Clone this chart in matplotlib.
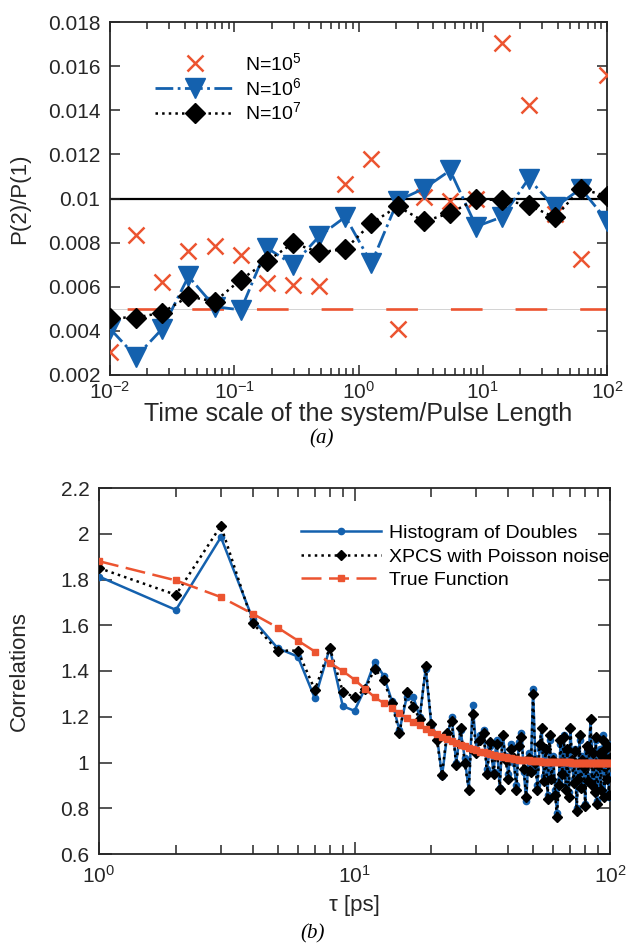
import matplotlib
matplotlib.use('Agg')
import matplotlib.pyplot as plt
import numpy as np
from matplotlib.ticker import FuncFormatter, LogLocator, NullFormatter

plt.rcParams['font.family'] = ['Liberation Sans', 'DejaVu Sans']
plt.rcParams['mathtext.fontset'] = 'custom'
plt.rcParams['mathtext.rm'] = 'Liberation Sans'
plt.rcParams['mathtext.it'] = 'Liberation Sans:italic'

# ---- panel (a): P(2)/P(1) vs time scale ----
t_ratio = [0.01, 0.0162, 0.0264, 0.0428, 0.0695, 0.113, 0.183, 0.298, 0.483, 0.785,
           1.27, 2.07, 3.36, 5.46, 8.86, 14.4, 23.4, 38.0, 61.6, 100.0]
p_1e5 = [0.00306, 0.00836, 0.0062, 0.0076, 0.00783, 0.00745, 0.00618, 0.0061, 0.00605, 0.01065,
         0.01177, 0.00408, 0.01008, 0.0099, 0.0100, 0.01706, 0.01423, 0.0093, 0.00728, 0.01558]
p_1e6 = [0.0041, 0.00283, 0.0041, 0.00647, 0.0051, 0.00495, 0.00776, 0.0070, 0.00829, 0.00917,
         0.00706, 0.0099, 0.01045, 0.01127, 0.00873, 0.00917, 0.0109, 0.0096, 0.01045, 0.0090]
p_1e7 = [0.0046, 0.0046, 0.00483, 0.00556, 0.00533, 0.00632, 0.00715, 0.00798, 0.00756, 0.00771,
         0.00888, 0.00964, 0.00896, 0.00934, 0.00996, 0.00993, 0.0097, 0.00914, 0.01045, 0.0101]
ref_high = 0.01
ref_low = 0.005

# ---- panel (b): correlations vs tau ----
tau = np.arange(1, 101)
hist_doubles = [1.813, 1.667, 1.985, 1.626, 1.50, 1.463, 1.28, 1.50, 1.246, 1.226,
                1.324, 1.44, 1.38, 1.27, 1.14, 1.285, 1.285, 1.20, 1.41, 1.16,
                1.12, 0.94, 1.11, 1.20, 1.00, 1.14, 1.02, 0.88, 1.25, 1.06,
                1.12, 1.14, 0.97, 1.07, 0.96, 1.10, 0.89, 1.12, 1.03, 0.95,
                1.08, 1.00, 0.90, 1.09, 1.13, 0.96, 0.83, 1.04, 0.97, 1.32,
                1.02, 0.90, 1.06, 1.15, 0.94, 1.05, 0.86, 1.10, 0.95, 1.03,
                0.88, 0.78, 0.92, 1.08, 0.97, 1.12, 0.90, 1.04, 0.87, 1.15,
                0.99, 0.93, 1.06, 0.80, 0.95, 1.10, 0.91, 1.03, 0.96, 0.82,
                1.05, 0.94, 1.08, 1.19, 0.92, 1.02, 0.89, 1.10, 0.83, 0.97,
                1.06, 0.90, 1.01, 1.12, 0.87, 1.04, 0.95, 1.08, 0.85, 1.00]
xpcs_poisson = [1.85, 1.733, 2.035, 1.609, 1.489, 1.489, 1.317, 1.502, 1.31, 1.285,
                1.32, 1.41, 1.36, 1.26, 1.127, 1.31, 1.243, 1.19, 1.42, 1.17,
                1.10, 0.945, 1.13, 1.18, 0.99, 1.15, 1.00, 0.879, 1.21, 1.04,
                1.10, 1.13, 0.95, 1.09, 0.95, 1.08, 0.886, 1.12, 1.01, 0.93,
                1.06, 1.02, 0.88, 1.07, 1.11, 0.97, 0.85, 1.02, 0.96, 1.30,
                1.00, 0.88, 1.08, 1.15, 0.92, 1.06, 0.84, 1.12, 0.93, 1.01,
                0.86, 0.76, 0.90, 1.10, 0.95, 1.11, 0.88, 1.06, 0.85, 1.15,
                1.01, 0.91, 1.05, 0.79, 0.93, 1.12, 0.89, 1.01, 0.98, 0.81,
                1.07, 0.92, 1.06, 1.19, 0.90, 1.04, 0.87, 1.11, 0.82, 0.99,
                1.04, 0.88, 1.03, 1.10, 0.85, 1.06, 0.93, 1.07, 0.86, 1.02]
true_function = [1.88, 1.796, 1.723, 1.65, 1.59, 1.533, 1.485, 1.435, 1.40, 1.362,
                 1.322, 1.285, 1.26, 1.237, 1.215, 1.195, 1.178, 1.162, 1.148, 1.135,
                 1.123, 1.112, 1.102, 1.093, 1.085, 1.077, 1.07, 1.064, 1.058, 1.053,
                 1.048, 1.044, 1.04, 1.036, 1.033, 1.03, 1.027, 1.025, 1.022, 1.02,
                 1.018, 1.016, 1.015, 1.013, 1.012, 1.011, 1.01, 1.009, 1.008, 1.007,
                 1.006, 1.005, 1.005, 1.004, 1.004, 1.003, 1.003, 1.003, 1.002, 1.002,
                 1.002, 1.002, 1.001, 1.001, 1.001, 1.001, 1.001, 1.001, 1.001, 1.001,
                 1.0, 1.0, 1.0, 1.0, 1.0, 1.0, 1.0, 1.0, 1.0, 1.0,
                 1.0, 1.0, 1.0, 1.0, 1.0, 1.0, 1.0, 1.0, 1.0, 1.0,
                 1.0, 1.0, 1.0, 1.0, 1.0, 1.0, 1.0, 1.0, 1.0, 1.0]

blue = '#1461AE'
red = '#EC5430'
axcol = '#262626'
fs = 15


def style_axes(ax, major_len, minor_len, xpad):
    for s in ax.spines.values():
        s.set_linewidth(1.3)
        s.set_color(axcol)
    ax.tick_params(which='both', direction='in', top=True, right=True,
                   colors=axcol, labelsize=fs, width=1.1)
    ax.tick_params(which='major', length=major_len)
    ax.tick_params(which='minor', length=minor_len)
    ax.tick_params(axis='y', which='major', pad=7)
    ax.tick_params(axis='x', which='major', pad=xpad)
    ax.xaxis.set_minor_locator(LogLocator(base=10, subs=np.arange(2, 10), numticks=20))
    ax.xaxis.set_minor_formatter(NullFormatter())
    ax.yaxis.set_major_formatter(FuncFormatter(lambda v, p: '%g' % round(v, 4)))


fig = plt.figure(figsize=(6.28, 9.43), dpi=100)

# top panel
ax1 = fig.add_axes([110 / 628, 1 - 375 / 943, 497 / 628, 353 / 943])
ax1.axhline(ref_low, color='#cccccc', lw=0.6, zorder=1)
ax1.axhline(ref_low, color=red, lw=1.9, linestyle=(18, (12, 12.5)), zorder=1)
ax1.axhline(ref_high, color='black', lw=1.6, zorder=1)
ax1.plot(t_ratio, p_1e5, linestyle='none', marker='x', ms=11, mew=1.8, color=red,
         label='N=10$^{5}$', zorder=3)
ax1.plot(t_ratio, p_1e6, linestyle='-.', lw=2.0, marker='v', ms=14, color=blue,
         label='N=10$^{6}$', zorder=4)
ax1.plot(t_ratio, p_1e7, linestyle=':', lw=1.8, marker='D', ms=10.5, color='black',
         label='N=10$^{7}$', zorder=5)
ax1.set_xscale('log')
ax1.set_xlim(1e-2, 1e2)
ax1.set_ylim(0.002, 0.018)
ax1.set_yticks(np.arange(0.002, 0.0181, 0.002))
style_axes(ax1, 7.5, 5, 4)
ax1.set_xlabel('Time scale of the system/Pulse Length', fontsize=18, color=axcol,
               labelpad=0)
ax1.set_ylabel('P(2)/P(1)', fontsize=16, color=axcol)
ax1.yaxis.set_label_coords(-0.16, 0.5)
ax1.legend(loc='upper left', bbox_to_anchor=(0.09, 0.915), frameon=False,
           fontsize=14, handlelength=4.1, handletextpad=0.55, labelspacing=0.15,
           borderpad=0, borderaxespad=0)
fig.text(322 / 628, 1 - 439 / 943, '(a)', fontsize=15, family='Liberation Serif',
         style='italic', ha='center', va='center')

# bottom panel
ax2 = fig.add_axes([99 / 628, 1 - 854 / 943, 511 / 628, 366 / 943])
ax2.plot(tau, hist_doubles, '-', lw=1.8, marker='o', ms=4.5, color=blue,
         label='Histogram of Doubles', zorder=3)
ax2.plot(tau, xpcs_poisson, ':', lw=1.8, marker='D', ms=5.5, color='black',
         label='XPCS with Poisson noise', zorder=4)
ax2.plot(tau, true_function, linestyle=(0, (8, 3)), lw=1.8, marker='s', ms=5,
         color=red, label='True Function', zorder=5)
ax2.set_xscale('log')
ax2.set_xlim(1, 100)
ax2.set_ylim(0.6, 2.2)
ax2.set_yticks(np.arange(0.6, 2.21, 0.2))
style_axes(ax2, 9, 6.5, 8)
ax2.set_xlabel('τ [ps]', fontsize=16, color=axcol, labelpad=6)
ax2.set_ylabel('Correlations', fontsize=16, color=axcol)
ax2.yaxis.set_label_coords(-0.135, 0.5)
ax2.legend(loc='upper left', bbox_to_anchor=(0.395, 0.9), frameon=False,
           fontsize=14, handlelength=4.1, handletextpad=0.45, labelspacing=0.3,
           borderpad=0, borderaxespad=0)
fig.text(313 / 628, 1 - 934 / 943, '(b)', fontsize=15, family='Liberation Serif',
         style='italic', ha='center', va='center')

fig.savefig('out.png', dpi=100)
